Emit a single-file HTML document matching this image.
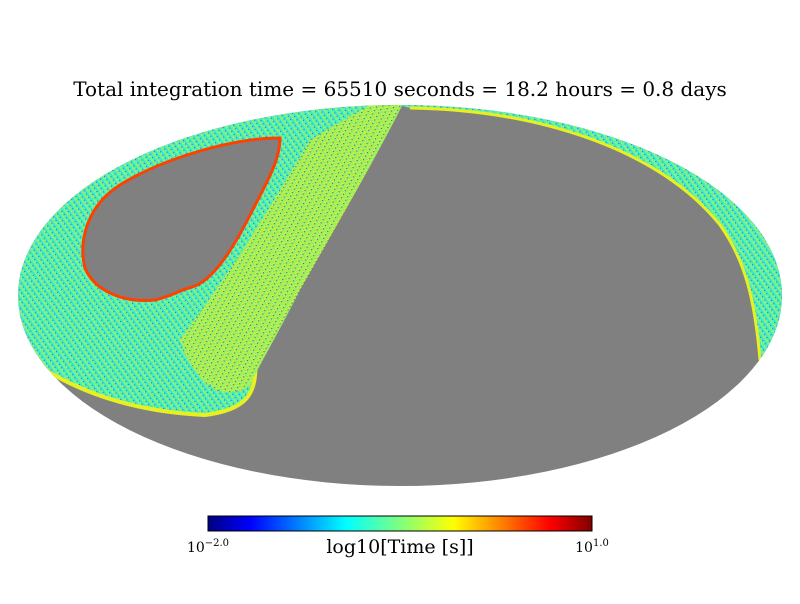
<!DOCTYPE html>
<html><head><meta charset="utf-8"><style>
body{margin:0;background:#fff;width:800px;height:600px;overflow:hidden;font-family:"DejaVu Serif","Liberation Serif",serif}
</style></head><body>
<svg width="800" height="600" xmlns="http://www.w3.org/2000/svg">
<defs>
<clipPath id="sky"><ellipse cx="400" cy="295.5" rx="382" ry="190.5"/></clipPath>
<pattern id="noise" width="5" height="4" patternUnits="userSpaceOnUse" patternTransform="rotate(-35)">
<rect width="5" height="4" fill="#5ff0a8"/>
<rect x="0" y="0" width="1" height="4" fill="#20e8e0"/>
<rect x="2" y="1" width="1" height="2" fill="#a8f060"/>
<rect x="4" y="0" width="1" height="1" fill="#2a60e8"/>
<rect x="3" y="3" width="1" height="1" fill="#c0f040"/>
</pattern>
<pattern id="noise2" width="5" height="4" patternUnits="userSpaceOnUse" patternTransform="rotate(30)">
<rect width="5" height="4" fill="#b8f048"/>
<rect x="0" y="0" width="1" height="4" fill="#80f070"/>
<rect x="2" y="2" width="1" height="1" fill="#40e8c0"/>
<rect x="4" y="0" width="1" height="1" fill="#3050d0"/>
<rect x="3" y="3" width="1" height="1" fill="#e8f020"/>
</pattern>
<linearGradient id="jet" x1="0" x2="1" y1="0" y2="0">
<stop offset="0" stop-color="#00007f"/><stop offset="0.11" stop-color="#0000ff"/>
<stop offset="0.36" stop-color="#00ffff"/><stop offset="0.5" stop-color="#7fff7f"/>
<stop offset="0.64" stop-color="#ffff00"/><stop offset="0.89" stop-color="#ff0000"/>
<stop offset="1" stop-color="#7f0000"/>
</linearGradient>
</defs>
<text x="400" y="96" text-anchor="middle" font-size="20" fill="#000">Total integration time = 65510 seconds = 18.2 hours = 0.8 days</text>
<g>
<ellipse cx="400" cy="295.5" rx="382" ry="190.5" fill="#808080"/>
<g clip-path="url(#sky)">
<path d="M0,0 L375,0 L380,105 C350,160 320,220 290,280 C270,320 258,345 255,360 C258,395 245,410 205,415 C140,412 80,395 30,360 L0,320 Z" fill="url(#noise)" stroke="#e8f020" stroke-width="4"/>
<path d="M310,140 L378,100 L405,100 C380,150 340,220 300,290 C280,330 262,360 250,385 C230,400 200,395 180,340 C210,300 255,235 310,140 Z" fill="url(#noise2)"/>
<path d="M380,100 L800,100 L800,420 L760,360 C755,300 745,260 720,225 C660,150 540,110 410,108 Z" fill="url(#noise)"/>
<path d="M760,360 C755,300 745,260 720,225 C660,150 540,110 410,108" fill="none" stroke="#e8f020" stroke-width="3"/>
</g>
<path d="M280,138 C230,138 160,160 120,185 C88,205 78,240 85,268 C95,292 125,303 155,300 C172,296 180,290 192,287 C210,282 230,255 250,215 C268,180 280,160 280,138 Z" fill="#808080" stroke="#ff4000" stroke-width="3"/>
</g>
<rect x="208" y="516" width="384" height="15" fill="url(#jet)" stroke="#000" stroke-width="1"/>
<text x="400" y="553" text-anchor="middle" font-size="19" fill="#000">log10[Time [s]]</text>
<g id="ticks"></g>
</svg>
<script>
const tickValues=[-2.0,1.0];
const tickLabels=["−2.0","1.0"];
const vmin=-2.0,vmax=1.0;
const xs=v=>208+(v-vmin)/(vmax-vmin)*384;
const g=document.getElementById('ticks');
tickValues.forEach((v,i)=>{
 const t=document.createElementNS('http://www.w3.org/2000/svg','text');
 
 
 t.setAttribute('x',xs(v));t.setAttribute('y',552);
 t.setAttribute('text-anchor','middle');t.setAttribute('font-size','14');
 t.innerHTML='10<tspan dy="-6" font-size="10">'+tickLabels[i]+'</tspan>';
 g.appendChild(t);
});
</script>
</body></html>
